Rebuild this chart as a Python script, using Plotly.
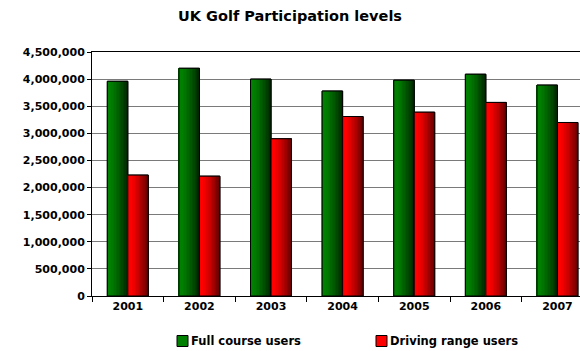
import plotly.graph_objects as go

years = ["2001", "2002", "2003", "2004", "2005", "2006", "2007"]
full_course = [3960000, 4200000, 4000000, 3780000, 3980000, 4090000, 3890000]
driving_range = [2230000, 2210000, 2900000, 3310000, 3390000, 3570000, 3200000]
series_names = ["Full course users", "Driving range users"]

BAR_W = 0.286      # width of one bar, in category units
N_STRIPS = 14      # vertical strips used to shade each bar left-to-right
FONT = "DejaVu Sans"


def shade(rgb_light, rgb_dark, t):
    # keep the left part bright, darken towards the right edge
    k = min(1.0, max(0.0, (t - 0.15) / 0.85)) ** 1.3
    return "rgb(%d,%d,%d)" % tuple(
        round(a + (b - a) * k) for a, b in zip(rgb_light, rgb_dark)
    )


series = [
    (series_names[0], full_course, (0, 128, 0), (0, 38, 0), -BAR_W, "#008000"),
    (series_names[1], driving_range, (255, 0, 0), (100, 0, 0), 0.0, "#ff0000"),
]

fig = go.Figure()

for name, values, light, dark, start, solid in series:
    # base bar
    fig.add_trace(go.Bar(
        x=years, y=values, name=name, width=BAR_W, offset=start,
        marker=dict(color=solid, line=dict(color="#000000", width=1)),
        hoverinfo="skip", showlegend=False,
    ))
    sw = BAR_W / N_STRIPS
    for i in range(N_STRIPS):
        t = (i + 0.5) / N_STRIPS
        fig.add_trace(go.Bar(
            x=years, y=values, width=sw * 1.08, offset=start + i * sw,
            marker=dict(color=shade(light, dark, t), line=dict(width=0)),
            hoverinfo="skip", showlegend=False,
        ))
    # crisp outline on top of the shading
    fig.add_trace(go.Bar(
        x=years, y=values, name=name, width=BAR_W, offset=start,
        marker=dict(color="rgba(0,0,0,0)", line=dict(color="#000000", width=1)),
        hovertemplate="%{x}: %{y:,}<extra>" + name + "</extra>",
        showlegend=False,
    ))

# legend row below the axis: swatch + label for each series
legend_items = [
    (series_names[0], "#008000", 177),
    (series_names[1], "#ff0000", 376),
]
legend_y = 341
for label, color, px in legend_items:
    fig.add_shape(
        type="rect", xref="paper", yref="paper",
        x0=(px - 92) / 488, x1=(px + 11 - 92) / 488,
        y0=(296 - legend_y - 5.5) / 244, y1=(296 - legend_y + 5.5) / 244,
        fillcolor=color, line=dict(color="#000000", width=1), layer="above",
    )
    fig.add_annotation(
        text=label, xref="paper", yref="paper",
        x=(px + 12 - 92) / 488, xanchor="left",
        y=(296 - legend_y) / 244, yanchor="middle",
        showarrow=False,
        font=dict(family=FONT, size=11.5, color="#000000", weight="bold"),
    )

fig.update_layout(
    width=580, height=351,
    margin=dict(l=92, r=0, t=52, b=55),
    paper_bgcolor="white", plot_bgcolor="white",
    barmode="overlay",
    title=dict(
        text="UK Golf Participation levels",
        x=0.5, xanchor="center", xref="container", y=0.955, yanchor="middle",
        font=dict(family=FONT, size=14.5, color="#000000", weight="bold"),
    ),
    font=dict(family=FONT, size=11, color="#000000"),
    showlegend=False,
)

fig.update_xaxes(
    type="category", range=[-0.5, 6.315],
    showline=True, linecolor="#000000", linewidth=1, mirror=True,
    ticks="outside", tickson="boundaries", ticklen=5, tickcolor="#000000",
    showgrid=False,
    tickfont=dict(family=FONT, size=11, color="#000000", weight="bold"),
)
fig.update_yaxes(
    range=[0, 4500000], dtick=500000, tickformat=",d",
    showline=True, linecolor="#000000", linewidth=1,
    ticks="outside", ticklen=4, tickcolor="#000000",
    showgrid=True, gridcolor="#7a7a7a", gridwidth=1.2,
    zeroline=False,
    tickfont=dict(family=FONT, size=11, color="#000000", weight="bold"),
)

fig.write_html("out.html")
